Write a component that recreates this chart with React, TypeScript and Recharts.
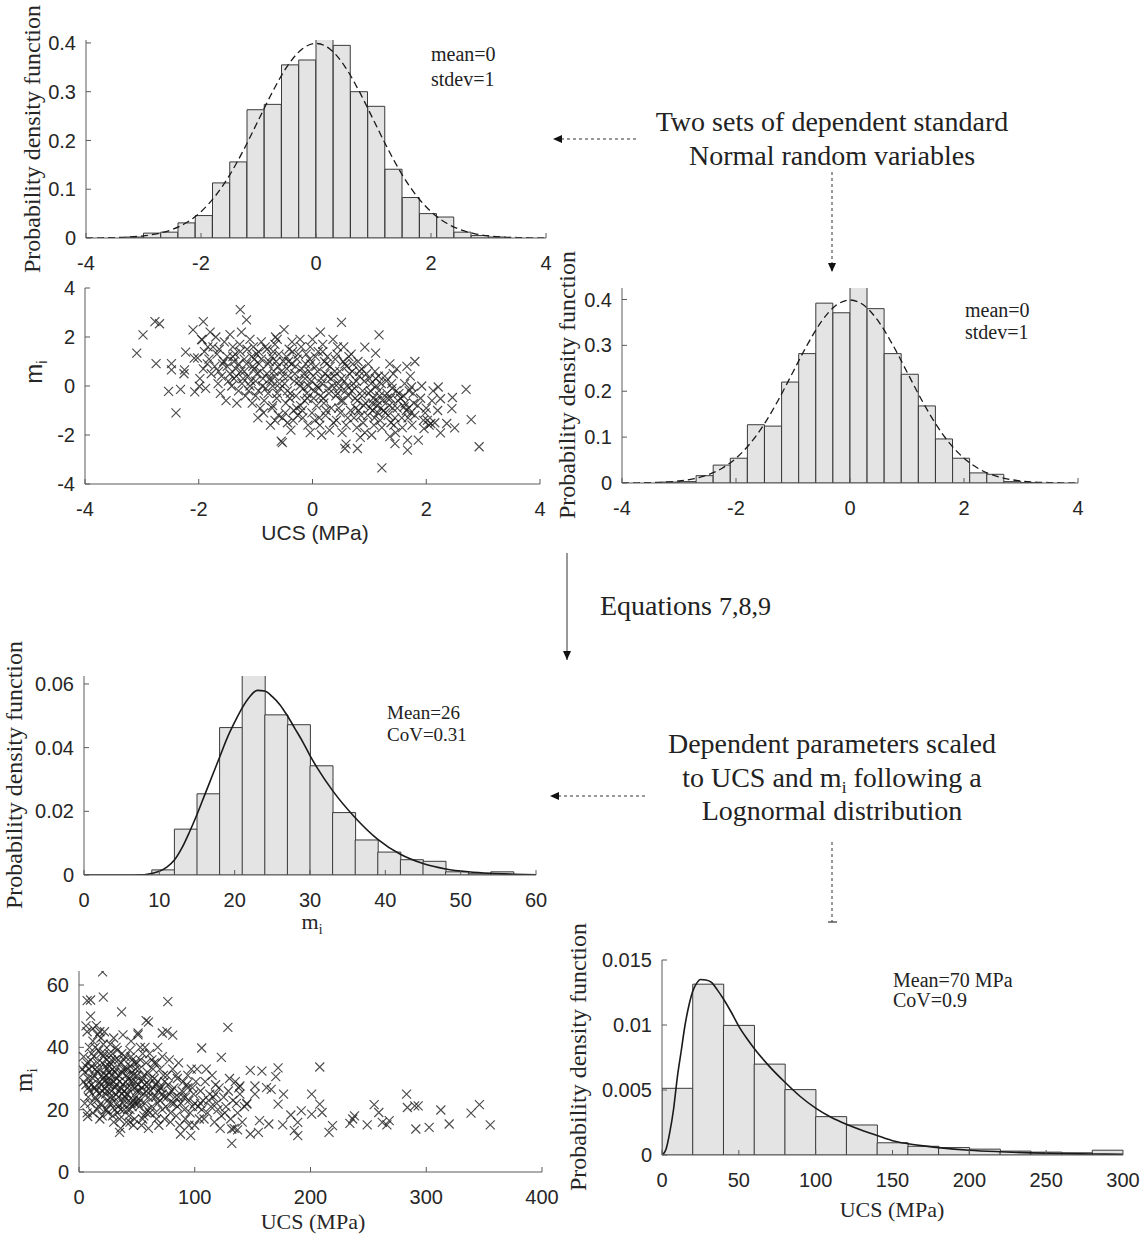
import React from 'react';
import { ComposedChart, ScatterChart, Bar, Line, Scatter, XAxis, YAxis } from 'recharts';

const SERIF = '"Liberation Serif", "Times New Roman", serif';
const SANS = '"Liberation Sans", Arial, Helvetica, sans-serif';
const AXIS_GREY = '#5a5a5a';
const TICK_TEXT = '#262626';

// standard Normal histograms, bin width 0.3
const stdBinCenters = [-3.15, -2.85, -2.55, -2.25, -1.95, -1.65, -1.35, -1.05, -0.75, -0.45, -0.15, 0.15, 0.45, 0.75, 1.05, 1.35, 1.65, 1.95, 2.25, 2.55, 2.85, 3.15];
const stdPdfTop = [0.002, 0.01, 0.012, 0.031, 0.046, 0.113, 0.156, 0.263, 0.274, 0.355, 0.365, 0.41, 0.395, 0.3, 0.27, 0.141, 0.083, 0.05, 0.043, 0.012, 0.005, 0.002];
const stdPdfRight = [0.002, 0.003, 0.016, 0.039, 0.054, 0.127, 0.124, 0.22, 0.282, 0.392, 0.371, 0.43, 0.38, 0.282, 0.237, 0.168, 0.096, 0.054, 0.022, 0.019, 0.003, 0.001];
const stdTicksX = [-4, -2, 0, 2, 4];
const stdTicksY = [0, 0.1, 0.2, 0.3, 0.4];

// fitted standard Normal curve (dashed)
const normX = [-4, -3.75, -3.5, -3.25, -3, -2.75, -2.5, -2.25, -2, -1.75, -1.5, -1.25, -1, -0.75, -0.5, -0.25, 0, 0.25, 0.5, 0.75, 1, 1.25, 1.5, 1.75, 2, 2.25, 2.5, 2.75, 3, 3.25, 3.5, 3.75, 4];
const normPdf = [0.0001, 0.0004, 0.0009, 0.002, 0.0044, 0.0091, 0.0175, 0.0317, 0.054, 0.0863, 0.1295, 0.1826, 0.242, 0.3011, 0.3521, 0.3867, 0.3989, 0.3867, 0.3521, 0.3011, 0.242, 0.1826, 0.1295, 0.0863, 0.054, 0.0317, 0.0175, 0.0091, 0.0044, 0.002, 0.0009, 0.0004, 0.0001];

// m_i histogram, bin width 3
const miBinCenters = [10.5, 13.5, 16.5, 19.5, 22.5, 25.5, 28.5, 31.5, 34.5, 37.5, 40.5, 43.5, 46.5, 49.5, 52.5, 55.5];
const miBinPdf = [0.0016, 0.0144, 0.0255, 0.0463, 0.064, 0.0503, 0.0472, 0.0343, 0.0196, 0.011, 0.0072, 0.0048, 0.0043, 0.001, 0.0004, 0.001];
const miCurveX = [0, 5, 8, 9, 10, 11, 12, 13, 14, 15, 16, 17, 18, 19, 20, 21, 22, 23, 24, 25, 26, 27, 28, 29, 30, 31, 33, 36, 39, 42, 45, 48, 51, 54, 57, 60];
const miCurvePdf = [0, 0, 0.0001, 0.0005, 0.0012, 0.0025, 0.0047, 0.0085, 0.0135, 0.019, 0.025, 0.031, 0.037, 0.043, 0.048, 0.0525, 0.056, 0.058, 0.0578, 0.056, 0.0535, 0.05, 0.046, 0.042, 0.0375, 0.0335, 0.0265, 0.018, 0.0112, 0.0065, 0.0036, 0.0019, 0.001, 0.0005, 0.00025, 0.0001];
const miTicksX = [0, 10, 20, 30, 40, 50, 60];
const miTicksY = [0, 0.02, 0.04, 0.06];

// UCS histogram, bin width 20 MPa
const ucsBinCenters = [10, 30, 50, 70, 90, 110, 130, 150, 170, 190, 210, 230, 250, 270, 290];
const ucsBinPdf = [0.00513, 0.01314, 0.00997, 0.00699, 0.00503, 0.00295, 0.00231, 0.00094, 0.00067, 0.00057, 0.00045, 0.0003, 0.00022, 0.00017, 0.00037];
const ucsCurveX = [0, 2.5, 5, 7.5, 10, 12.5, 15, 17.5, 20, 22.5, 25, 28.5, 32, 36, 40, 45, 50, 55, 60, 70, 80, 90, 100, 110, 120, 130, 140, 150, 160, 170, 180, 200, 220, 240, 260, 280, 300];
const ucsCurvePdf = [0, 0.0004, 0.0017, 0.0035, 0.006, 0.008, 0.01, 0.0115, 0.0126, 0.0132, 0.0135, 0.01346, 0.0133, 0.0127, 0.012, 0.011, 0.0099, 0.009, 0.0082, 0.0068, 0.0056, 0.0045, 0.0036, 0.0029, 0.00236, 0.0019, 0.0015, 0.0011, 0.00087, 0.0007, 0.00057, 0.00037, 0.00025, 0.00016, 0.00011, 0.00008, 0.00006];
const ucsTicksX = [0, 50, 100, 150, 200, 250, 300];
const ucsTicksY = [0, 0.005, 0.01, 0.015];

// dependent standard Normal samples (UCS, m_i)
const stdCloud = [
  [-1.95, 1.9], [-1.9, 1.4], [-1.85, 0.9], [-1.8, 2.2], [-1.98, 0.3], [-1.82, 1.1], [-1.88, -0.1], [-1.75, 1.6], [-1.78, 0.5], [-2.02, 1.15],
  [-1.7, 2.0], [-1.65, 0.6], [-1.6, 0.4], [-1.55, 1.8], [-1.62, -0.3], [-1.5, 1.2], [-1.68, 1.3], [-1.58, 0.9], [-1.52, -0.6], [-1.66, 0.1], [-1.45, 2.1], [-1.48, 0.2],
  [-1.4, 1.6], [-1.35, 0.7], [-1.3, -0.2], [-1.25, 2.2], [-1.38, 1.0], [-1.22, 0.3], [-1.28, 1.7], [-1.33, -0.7], [-1.2, 1.1], [-1.42, 0.0], [-1.26, 0.6], [-1.18, -0.4], [-1.36, 1.3],
  [-1.1, 1.9], [-1.05, 0.8], [-1.0, -0.4], [-0.95, 1.4], [-1.08, 0.2], [-0.92, -0.9], [-1.02, 1.1], [-0.98, 0.5], [-0.9, 1.8], [-1.12, -0.2], [-0.96, -1.3], [-1.04, 1.6], [-0.88, 0.0], [-0.94, 0.9],
  [-0.8, 1.5], [-0.75, 0.3], [-0.7, -0.8], [-0.65, 2.0], [-0.78, 0.9], [-0.62, -0.3], [-0.72, 1.2], [-0.68, 0.6], [-0.6, -1.2], [-0.82, -0.1], [-0.74, -1.6], [-0.66, 1.7], [-0.58, 0.1], [-0.7, 0.0], [-0.64, 1.0],
  [-0.5, 2.3], [-0.45, 0.7], [-0.4, -0.5], [-0.35, 1.4], [-0.48, -1.1], [-0.32, 0.2], [-0.42, 1.0], [-0.38, -1.8], [-0.3, 0.8], [-0.52, 0.4], [-0.44, -0.2], [-0.36, 1.8], [-0.28, -0.9], [-0.46, 1.2], [-0.34, -1.4], [-0.55, -2.25],
  [-0.2, 1.6], [-0.15, 0.5], [-0.1, -0.3], [-0.05, 1.1], [-0.18, -1.0], [-0.02, 0.2], [-0.12, 0.9], [-0.08, -1.6], [0.0, 1.9], [-0.22, 0.0], [-0.14, -0.6], [-0.06, 0.6], [-0.25, 1.3], [-0.04, -1.9], [-0.16, -0.1], [0.02, -0.5],
  [0.1, 1.4], [0.15, 0.3], [0.2, -0.7], [0.25, 0.9], [0.12, -1.3], [0.28, -0.1], [0.18, 1.7], [0.22, 0.5], [0.3, -1.8], [0.08, 0.0], [0.26, 1.2], [0.14, -0.4], [0.32, 0.3], [0.06, 0.8], [0.24, -1.0], [0.16, -2.0],
  [0.4, 1.1], [0.45, 0.1], [0.5, -0.6], [0.55, 1.6], [0.42, -1.4], [0.58, -0.2], [0.48, 0.6], [0.52, -1.9], [0.6, 0.8], [0.38, 0.4], [0.46, -0.9], [0.56, 0.2], [0.62, -1.3], [0.36, 1.9], [0.44, -0.3], [0.54, 1.0],
  [0.7, 0.6], [0.75, -0.5], [0.8, 1.0], [0.85, -1.2], [0.72, 0.1], [0.88, -0.2], [0.78, -1.7], [0.82, 0.4], [0.9, -0.8], [0.68, 1.3], [0.76, -0.9], [0.86, 0.7], [0.92, -1.9], [0.74, -0.1], [0.84, -2.1],
  [1.0, 0.3], [1.05, -0.7], [1.1, 0.6], [1.15, -1.1], [1.02, -0.2], [1.18, -0.4], [1.08, -1.6], [1.12, 0.0], [1.2, -0.9], [0.98, 0.9], [1.06, -1.0], [1.16, 0.4], [1.22, -1.7], [1.04, -2.0], [1.14, -0.6],
  [1.3, 0.2], [1.35, -0.8], [1.4, -0.1], [1.45, -1.3], [1.32, -0.5], [1.48, 0.7], [1.38, -1.5], [1.42, 0.5], [1.5, -0.6], [1.28, -1.1], [1.36, 0.9], [1.46, -1.9], [1.52, -0.3],
  [1.6, -0.4], [1.65, -1.0], [1.7, -0.2], [1.75, -1.6], [1.62, 0.1], [1.78, -0.7], [1.68, -1.3], [1.72, 0.4], [1.58, -1.7], [1.66, 0.8], [1.8, -1.2],
  [1.9, -0.5], [1.95, -1.4], [2.0, -0.9], [2.05, -1.6], [1.92, 0.0], [2.1, -0.6], [2.15, -1.5], [1.98, -1.1], [2.12, -0.2], [2.2, -1.0],
];
const stdCore = [
  [-1.5, 0.8], [-1.45, 0.5], [-1.4, 1.2], [-1.38, 0.3], [-1.3, 0.9], [-1.27, 1.4], [-1.24, 0.1], [-1.2, 0.6], [-1.15, 1.5], [-1.13, 0.4],
  [-1.1, 0.0], [-1.07, 1.2], [-1.03, 0.7], [-1.0, 0.2], [-0.98, 1.3], [-0.95, -0.2], [-0.92, 0.6], [-0.9, 1.1], [-0.87, 0.3], [-0.85, -0.6],
  [-0.83, 1.6], [-0.8, 0.5], [-0.78, -0.3], [-0.76, 1.0], [-0.73, 0.2], [-0.71, -0.9], [-0.69, 1.4], [-0.67, 0.4], [-0.63, -0.5], [-0.61, 0.8],
  [-0.59, 1.3], [-0.57, -0.1], [-0.55, 0.6], [-0.53, -1.3], [-0.51, 1.0], [-0.49, 0.1], [-0.47, -0.7], [-0.43, 0.4], [-0.41, 1.5], [-0.39, -0.3],
  [-0.37, 0.9], [-0.33, -1.0], [-0.31, 0.5], [-0.29, -0.4], [-0.27, 1.1], [-0.24, 0.2], [-0.21, -0.8], [-0.19, 0.7], [-0.17, -1.3], [-0.13, 0.3],
  [-0.11, 1.3], [-0.09, -0.5], [-0.07, 0.0], [-0.03, 0.9], [-0.01, -1.1], [0.01, 0.4], [0.03, -0.2], [0.05, 1.2], [0.07, -0.8], [0.09, 0.6],
  [0.11, -0.1], [0.13, -1.6], [0.17, 0.1], [0.19, -0.5], [0.21, 1.0], [0.23, -1.2], [0.27, 0.4], [0.29, -0.3], [0.31, 0.8], [0.33, -0.9],
  [0.35, 0.0], [0.37, -1.5], [0.39, 0.6], [0.41, -0.4], [0.43, 1.3], [0.47, -0.1], [0.49, -1.1], [0.51, 0.3], [0.53, -0.6], [0.57, 0.9],
  [0.59, -1.6], [0.61, 0.0], [0.63, -0.4], [0.65, 0.5], [0.67, -1.0], [0.69, -0.2], [0.71, 0.9], [0.73, -1.3], [0.77, 0.2], [0.79, -0.6],
  [0.81, -1.0], [0.83, 0.6], [0.87, -0.4], [0.89, -1.5], [0.91, 0.2], [0.93, -0.7], [0.95, 0.5], [0.97, -1.2], [0.99, -0.3], [1.01, -0.9],
  [1.03, 0.1], [1.07, -0.5], [1.09, -1.3], [1.11, 0.3], [1.13, -0.8], [1.17, -0.2], [1.19, -1.4], [1.21, 0.1], [1.23, -0.6], [1.25, -1.0],
  [1.27, 0.4], [1.31, -0.3], [1.33, -1.2], [1.37, -0.5], [1.39, 0.1], [1.41, -0.9], [1.43, -1.6], [1.47, -0.2], [1.49, -0.9], [1.55, -0.5],
  [1.57, -1.3], [1.63, -0.7], [1.69, -0.9], [1.73, -1.1], [1.77, -0.3], [1.85, -0.8], [-1.72, 0.8], [-1.64, 1.5], [-1.56, 1.0], [-1.84, 1.6],
  [-1.92, 0.7], [-1.34, 0.4], [-1.16, 0.9], [-1.06, -0.7], [-0.86, -1.1], [-0.66, -1.4], [-0.44, -1.5], [-0.26, -1.2], [0.04, -1.4], [0.44, 1.6],
  [0.64, 1.2], [-0.04, 1.6], [-0.22, 1.9], [-0.62, 1.9], [0.18, 1.4],
];
const stdOutliers = [
  [-3.09, 1.34], [-2.98, 2.09], [-2.77, 2.63], [-2.69, 2.54], [-2.75, 0.91], [-2.53, -0.22], [-2.48, 0.91], [-2.48, 0.66], [-2.32, -0.14], [-2.4, -1.1],
  [-2.26, 0.5], [-2.25, 0.66], [-2.23, 1.38], [-2.08, 1.14], [-2.07, -0.24], [-1.99, -0.01], [-1.92, 2.63], [-2.1, 2.29], [-1.94, 1.88], [-1.27, 3.12],
  [-1.16, 2.7], [0.51, 2.6], [0.14, 2.2], [1.17, 2.09], [1.11, 1.34], [0.92, 1.59], [1.8, 1.0], [1.22, -3.34], [2.93, -2.48], [2.7, -0.14],
  [2.79, -1.37], [2.5, -1.71], [2.46, -0.47], [2.45, -0.92], [2.21, -0.04], [2.25, -0.52], [2.25, -1.91], [2.36, -1.53], [2.02, -1.4], [2.08, -1.53],
  [1.96, -1.74], [1.86, -2.21], [1.67, -2.21], [1.67, -2.62], [1.45, -2.35], [1.61, -0.85], [0.59, -2.37], [0.57, -2.55], [0.79, -2.55], [-0.53, -2.31],
  [1.36, -2.07], [1.74, -0.04],
];
const stdScatterTicks = [-4, -2, 0, 2, 4];

// scaled samples: UCS (MPa), m_i
const ucsMiCloud = [
  [4, 37], [5, 32], [6, 28], [7, 45], [8, 24], [9, 40], [5, 22], [10, 50], [6, 34], [8, 30], [9, 26], [4, 29], [7, 19], [10, 36], [3, 33],
  [11, 28], [12, 42], [13, 31], [14, 24], [15, 47], [16, 35], [17, 21], [18, 29], [19, 38], [20, 26], [12, 19], [14, 33], [16, 44], [18, 17], [20, 31], [13, 27], [15, 23], [17, 39], [19, 22], [11, 34],
  [21, 30], [22, 45], [23, 25], [24, 36], [25, 19], [26, 28], [27, 41], [28, 22], [29, 33], [30, 16], [22, 27], [24, 31], [26, 38], [28, 26], [30, 43], [23, 34], [25, 23], [27, 29], [29, 18], [21, 37], [24, 20], [26, 32],
  [31, 27], [32, 40], [33, 22], [34, 31], [35, 17], [36, 35], [37, 25], [38, 44], [39, 20], [40, 29], [32, 33], [34, 24], [36, 14], [38, 28], [40, 37], [33, 19], [35, 26], [37, 32], [39, 23], [31, 36],
  [41, 25], [42, 33], [43, 18], [44, 39], [45, 22], [46, 29], [47, 15], [48, 35], [49, 24], [50, 31], [42, 27], [44, 20], [46, 36], [48, 17], [50, 26], [43, 30], [45, 42], [47, 23], [49, 33], [41, 16],
  [51, 28], [52, 21], [53, 36], [54, 15], [55, 30], [56, 25], [57, 40], [58, 19], [59, 32], [60, 24], [52, 33], [54, 27], [56, 18], [58, 35], [60, 14], [53, 23], [55, 38], [57, 28], [59, 20], [51, 44],
  [62, 26], [64, 33], [66, 19], [68, 29], [70, 23], [72, 37], [74, 17], [63, 21], [65, 30], [67, 35], [69, 15], [71, 27], [73, 31], [75, 21], [61, 38], [64, 24], [68, 40], [72, 25], [66, 28], [70, 33],
  [77, 28], [79, 19], [81, 33], [83, 24], [85, 30], [87, 15], [89, 26], [78, 36], [80, 22], [82, 27], [84, 18], [86, 35], [88, 22], [90, 29], [76, 24], [84, 31],
  [92, 24], [94, 31], [96, 19], [98, 27], [100, 22], [102, 33], [104, 17], [93, 28], [95, 15], [97, 33], [99, 25], [101, 29], [103, 21], [105, 26], [91, 20],
  [107, 23], [109, 29], [111, 19], [113, 25], [115, 31], [117, 16], [119, 22], [121, 27], [123, 18], [125, 24], [110, 33], [114, 21], [118, 28], [122, 14], [108, 17], [116, 24],
  [127, 21], [129, 26], [131, 17], [133, 23], [135, 29], [137, 19], [139, 25], [141, 16], [143, 21], [130, 30], [134, 14], [138, 27], [145, 22],
];
const ucsMiCore = [
  [12, 30], [14, 27], [16, 32], [18, 25], [20, 35], [22, 29], [24, 26], [26, 34], [28, 31], [30, 24], [32, 28], [34, 36], [36, 27], [38, 22], [40, 33],
  [42, 25], [44, 29], [46, 21], [48, 27], [50, 23], [13, 37], [17, 33], [21, 41], [25, 29], [29, 38], [33, 30], [37, 38], [41, 31], [45, 27], [49, 29],
  [15, 26], [19, 28], [23, 31], [27, 24], [31, 32], [35, 29], [39, 26], [43, 23], [47, 31], [51, 22], [9, 33], [11, 38], [14, 40], [18, 45], [22, 38],
  [26, 22], [30, 29], [34, 21], [38, 33], [42, 20], [46, 32], [50, 35], [54, 29], [58, 26], [62, 30], [66, 24], [70, 27], [74, 29], [78, 25], [82, 22],
  [56, 31], [60, 28], [64, 27], [68, 22], [72, 20], [76, 31], [80, 26], [86, 24], [90, 24], [94, 27], [98, 21], [106, 20], [112, 23], [120, 20], [8, 27],
  [10, 22], [16, 20], [20, 18], [24, 33], [28, 36], [32, 25], [36, 20], [40, 24], [44, 34], [48, 22], [52, 26], [57, 22], [61, 19], [65, 35], [69, 26],
  [73, 24], [7, 35], [12, 46], [19, 43], [27, 35], [33, 39], [39, 36], [45, 37], [53, 40], [63, 36], [23, 20], [31, 20], [44, 16], [55, 17], [67, 17],
  [79, 16], [92, 17], [100, 15], [85, 21], [95, 23], [105, 22], [118, 25], [126, 19], [136, 22],
];
const ucsMiOutliers = [
  [20.4, 64.2], [21, 56.1], [76.7, 54.7], [128.6, 46.4], [106, 39.8], [123, 36.8], [208, 33.7], [148, 32.6], [158, 32.4], [172, 33.4],
  [170, 30.6], [283, 25], [283.7, 20.7], [290, 21.2], [293, 21.2], [255, 21.6], [259, 19.1], [249, 15.1], [262, 15.9], [268, 16.5],
  [266, 15.1], [291, 13.8], [302.5, 14.3], [312.6, 19.9], [319.8, 15.4], [338.7, 18.9], [345.9, 21.6], [355.3, 15.1], [234, 15.6], [236.5, 17],
  [238, 18], [216, 12.7], [219, 14.9], [201, 18.6], [201, 25], [208, 21.8], [210, 19.1], [192, 19.6], [189, 15.9], [189, 11.7],
  [186, 13.3], [183, 18.3], [176.7, 25], [176, 15.1], [172, 21.8], [164, 15.4], [166, 26.5], [162, 27.1], [152, 27.6], [152, 25],
  [148, 12.2], [155, 12.7], [156, 16.5], [132, 9.2], [132, 13.8], [137, 13.5], [145, 21.8], [139, 27.6], [87.7, 12.2], [96.5, 11.7],
  [35, 12.7], [36.8, 51.4], [7, 55], [10, 55.2], [6, 46.9], [7.5, 17.8], [76, 45.1], [81, 43.9], [72, 44.6], [58, 48.6], [60, 48.1], [51, 44.6],
];
const ucsScatterTicksX = [0, 100, 200, 300, 400];
const ucsScatterTicksY = [0, 20, 40, 60];

const toBins = (xs: number[], ys: number[]) => xs.map((x, i) => ({ x, pdf: ys[i] }));
const toPoints = (pairs: number[][]) => pairs.map(([x, y]) => ({ x, y }));

const YW = 70;
const MT = 10;
const MR = 28;
const XH = 45;

const tickStyle = { fill: TICK_TEXT, fontSize: 20, fontFamily: SANS };

interface Frame {
  left: number;
  top: number;
  w: number;
  h: number;
}

interface HistProps extends Frame {
  bins: { x: number; pdf: number }[];
  curve: { x: number; pdf: number }[];
  xDomain: [number, number];
  xTicks: number[];
  yDomain: [number, number];
  yTicks: number[];
  dashed?: boolean;
}

function Histogram({ left, top, w, h, bins, curve, xDomain, xTicks, yDomain, yTicks, dashed }: HistProps) {
  return (
    <div style={{ position: 'absolute', left: left - YW, top: top - MT }}>
      <ComposedChart
        width={YW + w + MR}
        height={MT + h + XH}
        data={bins}
        margin={{ top: MT, right: MR, bottom: 0, left: 0 }}
        barCategoryGap={0}
        barGap={0}
      >
        <XAxis xAxisId="b" dataKey="x" type="number" domain={xDomain} ticks={xTicks} interval={0} allowDataOverflow
          height={XH} stroke={AXIS_GREY} tick={tickStyle} tickSize={-5} tickMargin={23} />
        <XAxis xAxisId="t" dataKey="x" orientation="top" type="number" domain={xDomain} ticks={xTicks} interval={0}
          allowDataOverflow height={0} stroke={AXIS_GREY} tick={false} tickSize={-5} />
        <YAxis yAxisId="l" type="number" domain={yDomain} ticks={yTicks} interval={0} allowDataOverflow
          width={YW} stroke={AXIS_GREY} tick={tickStyle} tickSize={-5} tickMargin={15} />
        <YAxis yAxisId="r" orientation="right" type="number" domain={yDomain} ticks={yTicks} interval={0}
          allowDataOverflow width={0} stroke={AXIS_GREY} tick={false} tickSize={-5} />
        <Bar xAxisId="b" yAxisId="l" dataKey="pdf" fill="#e4e4e4" stroke="#3a3a3a" strokeWidth={1} isAnimationActive={false} />
        <Line xAxisId="t" yAxisId="l" data={curve} dataKey="pdf" type="monotone" stroke="#1a1a1a"
          strokeWidth={dashed ? 1.3 : 1.6} strokeDasharray={dashed ? '7 4' : undefined} dot={false} activeDot={false}
          isAnimationActive={false} />
      </ComposedChart>
    </div>
  );
}

const Cross = (props: any) => {
  const { cx, cy } = props;
  if (cx == null || cy == null) return null;
  const r = 4.5;
  return (
    <path
      d={`M${cx - r},${cy - r}L${cx + r},${cy + r}M${cx - r},${cy + r}L${cx + r},${cy - r}`}
      stroke="#1a1a1a"
      strokeOpacity={0.78}
      strokeWidth={1.15}
      fill="none"
    />
  );
};

interface CloudProps extends Frame {
  points: { x: number; y: number }[];
  xDomain: [number, number];
  xTicks: number[];
  yDomain: [number, number];
  yTicks: number[];
}

function Cloud({ left, top, w, h, points, xDomain, xTicks, yDomain, yTicks }: CloudProps) {
  return (
    <div style={{ position: 'absolute', left: left - YW, top: top - MT }}>
      <ScatterChart width={YW + w + MR} height={MT + h + XH} margin={{ top: MT, right: MR, bottom: 0, left: 0 }}>
        <XAxis dataKey="x" type="number" domain={xDomain} ticks={xTicks} interval={0} allowDataOverflow
          height={XH} stroke={AXIS_GREY} tick={tickStyle} tickSize={-5} tickMargin={23} />
        <YAxis dataKey="y" type="number" domain={yDomain} ticks={yTicks} interval={0} allowDataOverflow
          width={YW} stroke={AXIS_GREY} tick={tickStyle} tickSize={-5} tickMargin={15} />
        <Scatter data={points} shape={Cross} isAnimationActive={false} />
      </ScatterChart>
    </div>
  );
}

const VText = ({ x, y, size, family, children }: any) => (
  <text transform={`translate(${x},${y}) rotate(-90)`} textAnchor="middle" fontSize={size} fontFamily={family} fill={TICK_TEXT}>
    {children}
  </text>
);

// subscript "i"; shift given in px so the following text can return to the baseline
const Sub = ({ shift, children }: any) => (
  <tspan fontSize="0.62em" dy={shift}>{children}</tspan>
);

export default function App() {
  const stdHistTop = toBins(stdBinCenters, stdPdfTop);
  const stdHistRight = toBins(stdBinCenters, stdPdfRight);
  const normCurve = toBins(normX, normPdf);
  const miHist = toBins(miBinCenters, miBinPdf);
  const miCurve = toBins(miCurveX, miCurvePdf);
  const ucsHist = toBins(ucsBinCenters, ucsBinPdf);
  const ucsCurve = toBins(ucsCurveX, ucsCurvePdf);
  const stdPoints = toPoints([...stdCloud, ...stdCore, ...stdOutliers]);
  const ucsPoints = toPoints([...ucsMiCloud, ...ucsMiCore, ...ucsMiOutliers]);

  const dash = { stroke: '#333', strokeWidth: 1, strokeDasharray: '3 3', fill: 'none' };
  const note = { fontFamily: SERIF, fill: '#222' };

  return (
    <div style={{ position: 'relative', width: 1145, height: 1236, background: '#fff', overflow: 'hidden' }}>
      <style>{'body{margin:0}'}</style>

      <Histogram left={86} top={40} w={460} h={198} bins={stdHistTop} curve={normCurve}
        xDomain={[-4, 4]} xTicks={stdTicksX} yDomain={[0, 0.406]} yTicks={stdTicksY} dashed />
      <Histogram left={622} top={288} w={456} h={195} bins={stdHistRight} curve={normCurve}
        xDomain={[-4, 4]} xTicks={stdTicksX} yDomain={[0, 0.425]} yTicks={stdTicksY} dashed />
      <Cloud left={85} top={288} w={455} h={196} points={stdPoints}
        xDomain={[-4, 4]} xTicks={stdScatterTicks} yDomain={[-4, 4]} yTicks={stdScatterTicks} />
      <Histogram left={84} top={676} w={452} h={199} bins={miHist} curve={miCurve}
        xDomain={[0, 60]} xTicks={miTicksX} yDomain={[0, 0.0625]} yTicks={miTicksY} />
      <Cloud left={79} top={971} w={463} h={201} points={ucsPoints}
        xDomain={[0, 400]} xTicks={ucsScatterTicksX} yDomain={[0, 64.5]} yTicks={ucsScatterTicksY} />
      <Histogram left={662} top={960} w={461} h={195} bins={ucsHist} curve={ucsCurve}
        xDomain={[0, 300]} xTicks={ucsTicksX} yDomain={[0, 0.015]} yTicks={ucsTicksY} />

      <svg width={1145} height={1236} style={{ position: 'absolute', left: 0, top: 0, pointerEvents: 'none' }}>
        <defs>
          <marker id="head" markerWidth="9" markerHeight="8" refX="9" refY="4" orient="auto" markerUnits="userSpaceOnUse">
            <path d="M0,0 L9,4 L0,8 z" fill="#111" />
          </marker>
        </defs>

        {/* axis titles */}
        <VText x={40} y={139} size={24} family={SERIF}>Probability density function</VText>
        <VText x={575} y={385} size={24} family={SERIF}>Probability density function</VText>
        <VText x={22} y={775} size={24} family={SERIF}>Probability density function</VText>
        <VText x={586} y={1057} size={24} family={SERIF}>Probability density function</VText>
        <VText x={42} y={372} size={24} family={SANS}>m<Sub shift={5}>i</Sub></VText>
        <VText x={32} y={1080} size={25} family={SERIF}>m<Sub shift={5}>i</Sub></VText>
        <text x={315} y={540} textAnchor="middle" fontSize={21} fontFamily={SANS} fill={TICK_TEXT}>UCS (MPa)</text>
        <text x={312} y={929} textAnchor="middle" fontSize={22} fontFamily={SERIF} fill={TICK_TEXT}>m<Sub shift={5}>i</Sub></text>
        <text x={313} y={1229} textAnchor="middle" fontSize={22} fontFamily={SERIF} fill={TICK_TEXT}>UCS (MPa)</text>
        <text x={892} y={1217} textAnchor="middle" fontSize={22} fontFamily={SERIF} fill={TICK_TEXT}>UCS (MPa)</text>

        {/* in-plot statistics */}
        <text x={431} y={61} fontSize={20} {...note}>mean=0</text>
        <text x={431} y={86} fontSize={20} {...note}>stdev=1</text>
        <text x={965} y={317} fontSize={20} {...note}>mean=0</text>
        <text x={965} y={339} fontSize={20} {...note}>stdev=1</text>
        <text x={387} y={719} fontSize={19} {...note}>Mean=26</text>
        <text x={387} y={741} fontSize={19} {...note}>CoV=0.31</text>
        <text x={893} y={987} fontSize={20} {...note}>Mean=70 MPa</text>
        <text x={893} y={1007} fontSize={20} {...note}>CoV=0.9</text>

        {/* annotations */}
        <text x={832} y={131} textAnchor="middle" fontSize={28} {...note}>Two sets of dependent standard</text>
        <text x={832} y={165} textAnchor="middle" fontSize={28} {...note}>Normal random variables</text>
        <line x1={636} y1={139} x2={553} y2={139} {...dash} markerEnd="url(#head)" />
        <line x1={832} y1={172} x2={832} y2={272} {...dash} markerEnd="url(#head)" />

        <line x1={567} y1={553} x2={567} y2={660} stroke="#333" strokeWidth={1} markerEnd="url(#head)" />
        <text x={600} y={615} fontSize={28} {...note}>Equations <tspan fontSize={26}>7,8,9</tspan></text>

        <text x={832} y={753} textAnchor="middle" fontSize={28} {...note}>Dependent parameters scaled</text>
        <text x={832} y={787} textAnchor="middle" fontSize={28} {...note}>to UCS and m<Sub shift={6}>i</Sub><tspan dy={-6}> following a</tspan></text>
        <text x={832} y={820} textAnchor="middle" fontSize={28} {...note}>Lognormal distribution</text>
        <line x1={645} y1={796} x2={550} y2={796} {...dash} markerEnd="url(#head)" />
        <line x1={832} y1={842} x2={832} y2={922} {...dash} />
        <line x1={828} y1={922} x2={837} y2={922} stroke="#333" strokeWidth={1.2} />
      </svg>
    </div>
  );
}
